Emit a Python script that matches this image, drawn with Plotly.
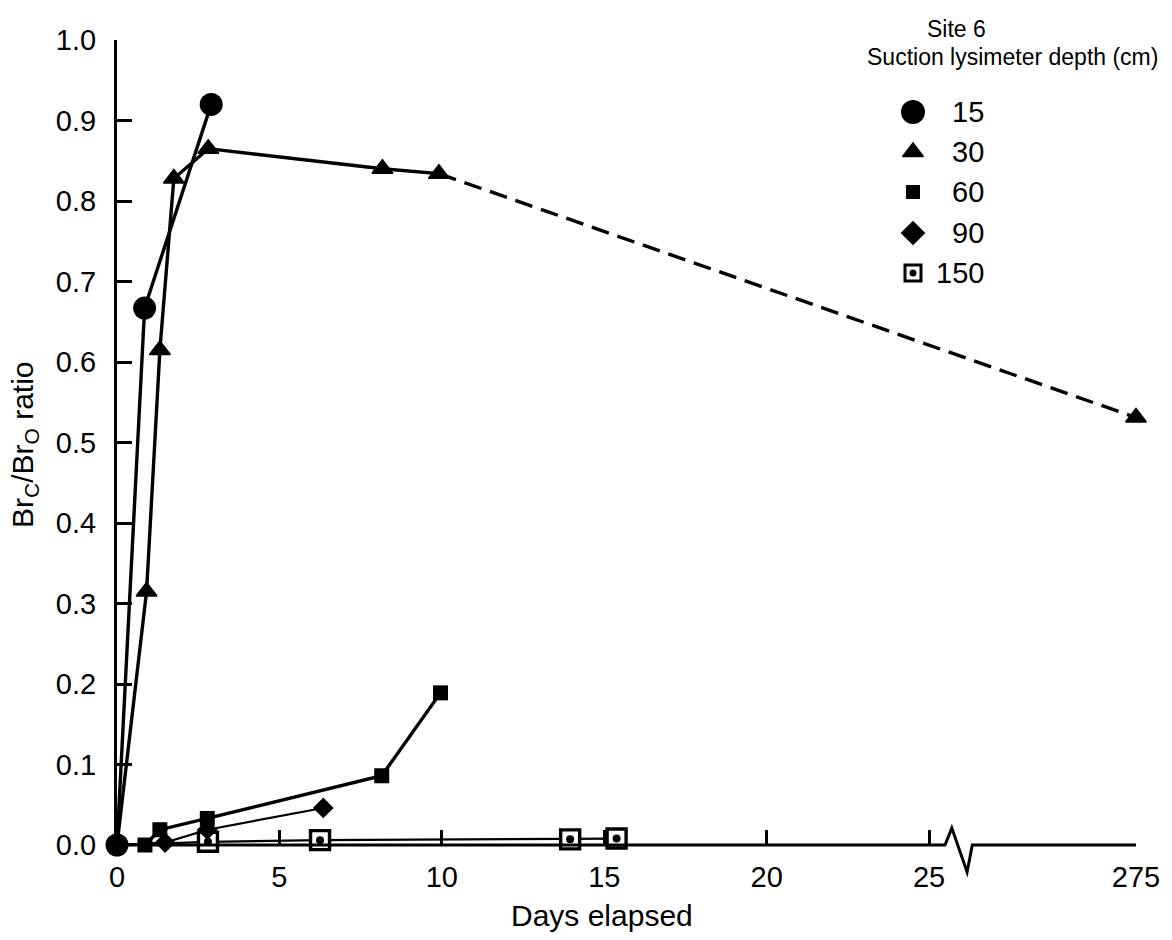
import plotly.graph_objects as go

# ---- Measured Br ratio (Br_C / Br_O) by suction lysimeter depth, Site 6 ----
days_15 = [0, 0.85, 2.9]
ratio_15 = [0, 0.667, 0.92]

days_30 = [0, 0.91, 1.32, 1.75, 2.81, 8.17, 9.91, 275]
ratio_30 = [0, 0.315, 0.615, 0.828, 0.865, 0.84, 0.834, 0.531]

days_60 = [0, 0.86, 1.32, 2.78, 8.15, 9.96]
ratio_60 = [0, 0.0, 0.019, 0.033, 0.086, 0.189]

days_90 = [0, 1.48, 2.78, 6.35]
ratio_90 = [0, 0.003, 0.019, 0.046]

days_150 = [0, 2.8, 6.25, 13.95, 15.38]
ratio_150 = [0, 0.004, 0.006, 0.007, 0.008]

depth_labels = ["15", "30", "60", "90", "150"]
x_tick_days = [0, 5, 10, 15, 20, 25, 275]
y_tick_vals = [i / 10 for i in range(11)]

# ---- broken x axis: days beyond the break are compressed ----
BREAK_DAY = 25.0
LAST_DAY = 275.0
AXIS_END = 31.37          # axis units where the last day is placed


def axis_pos(d):
    if d <= BREAK_DAY + 1:
        return d
    return BREAK_DAY + (d - BREAK_DAY) * (AXIS_END - BREAK_DAY) / (LAST_DAY - BREAK_DAY)


W, H = 1172, 940
ML, MR, MT, MB = 117, 36, 40, 95
PW, PH = W - ML - MR, H - MT - MB
FONT = "Liberation Sans, Arial, Helvetica, sans-serif"
BLACK = "#000000"


def px_to_paper(px, py):
    return (px - ML) / PW, (H - MB - py) / PH


def px_to_data(px, py):
    return (px - ML) / PW * AXIS_END, (H - MB - py) / PH


fig = go.Figure()


def add_series(days, ratio, symbol, size, lw, dash_last=False, origin_marker=False,
               fill=BLACK, mline=0, dot=None):
    xs = [axis_pos(d) for d in days]
    if dash_last:
        fig.add_trace(go.Scatter(x=xs[:-1], y=ratio[:-1], mode="lines",
                                 line=dict(color=BLACK, width=lw), hoverinfo="skip"))
        fig.add_trace(go.Scatter(x=xs[-2:], y=ratio[-2:], mode="lines",
                                 line=dict(color=BLACK, width=lw, dash="18px,9px"),
                                 hoverinfo="skip"))
    else:
        fig.add_trace(go.Scatter(x=xs, y=ratio, mode="lines",
                                 line=dict(color=BLACK, width=lw), hoverinfo="skip"))
    start = 0 if origin_marker else 1
    fig.add_trace(go.Scatter(
        x=xs[start:], y=ratio[start:], mode="markers", cliponaxis=False,
        marker=dict(symbol=symbol, size=size, color=fill,
                    line=dict(color=BLACK, width=mline)),
    ))
    if dot:
        fig.add_trace(go.Scatter(
            x=xs[start:], y=ratio[start:], mode="markers", cliponaxis=False,
            marker=dict(symbol="circle", size=dot, color=BLACK, line=dict(width=0)),
        ))


add_series(days_150, ratio_150, "square", 19, 2.2, fill="white", mline=3.4, dot=8)
add_series(days_90, ratio_90, "diamond", 16, 2.2)
add_series(days_60, ratio_60, "square", 15, 3.4)
add_series(days_30, ratio_30, "triangle-up", 18, 3.4, dash_last=True, mline=1.5)
add_series(days_15, ratio_15, "circle", 23, 3.4, origin_marker=True)

# ---- legend block ----
legend_rows_py = [112, 152, 192, 233, 273]
legend_symbols = [
    dict(symbol="circle", size=24, color=BLACK, line=dict(width=0)),
    dict(symbol="triangle-up", size=18, color=BLACK, line=dict(color=BLACK, width=1.5)),
    dict(symbol="square", size=14, color=BLACK, line=dict(width=0)),
    dict(symbol="diamond", size=19, color=BLACK, line=dict(width=0)),
    dict(symbol="square", size=16, color="white", line=dict(color=BLACK, width=3)),
]
for py, mk in zip(legend_rows_py, legend_symbols):
    lx, ly = px_to_data(913, py)
    fig.add_trace(go.Scatter(x=[lx], y=[ly], mode="markers", marker=mk,
                             cliponaxis=False, hoverinfo="skip"))
lx, ly = px_to_data(913, legend_rows_py[-1])
fig.add_trace(go.Scatter(x=[lx], y=[ly], mode="markers", cliponaxis=False,
                         marker=dict(symbol="circle", size=7, color=BLACK)))

annotations = []
for py, lab in zip(legend_rows_py, depth_labels):
    ax, ay = px_to_paper(986, py)
    annotations.append(dict(x=ax, y=ay, xref="paper", yref="paper", text=lab,
                            showarrow=False, xanchor="right", yanchor="middle",
                            font=dict(family=FONT, size=29, color=BLACK)))

tx, ty = px_to_paper(956, 29)
annotations.append(dict(x=tx, y=ty, xref="paper", yref="paper", text="Site 6",
                        showarrow=False, xanchor="center", yanchor="middle",
                        font=dict(family=FONT, size=23, color=BLACK)))
tx, ty = px_to_paper(1012, 57)
annotations.append(dict(x=tx, y=ty, xref="paper", yref="paper",
                        text="Suction lysimeter depth (cm)",
                        showarrow=False, xanchor="center", yanchor="middle",
                        font=dict(family=FONT, size=23, color=BLACK)))

# axis titles
tx, ty = px_to_paper(602, 915)
annotations.append(dict(x=tx, y=ty, xref="paper", yref="paper", text="Days elapsed",
                        showarrow=False, xanchor="center", yanchor="middle",
                        font=dict(family=FONT, size=30, color=BLACK)))
tx, ty = px_to_paper(25, 445)
annotations.append(dict(x=tx, y=ty, xref="paper", yref="paper",
                        text="Br<sub>C</sub>/Br<sub>O</sub> ratio", textangle=-90,
                        showarrow=False, xanchor="center", yanchor="middle",
                        font=dict(family=FONT, size=30, color=BLACK)))

# ---- x axis line with the zigzag break ----
zig_x = [25.49, 25.70, 26.17, 26.33]
zig_dy_px = [0, 17, -27, 0]
pts = [(0.0, 0.0)]
for zx, zdy in zip(zig_x, zig_dy_px):
    pts.append((zx / AXIS_END, zdy / PH))
pts.append((1.0, 0.0))
path = "M " + " L ".join(f"{x:.5f},{y:.5f}" for x, y in pts)
shapes = [dict(type="path", path=path, xref="paper", yref="paper",
               line=dict(color=BLACK, width=3), layer="above")]

fig.update_layout(
    width=W, height=H,
    margin=dict(l=ML, r=MR, t=MT, b=MB),
    paper_bgcolor="white", plot_bgcolor="white",
    showlegend=False,
    annotations=annotations,
    shapes=shapes,
    xaxis=dict(
        range=[0, AXIS_END], showgrid=False, zeroline=False, showline=False,
        tickmode="array", tickvals=[axis_pos(d) for d in x_tick_days],
        ticktext=[str(d) for d in x_tick_days],
        ticks="inside", ticklen=15, tickwidth=2.5, tickcolor=BLACK,
        ticklabelstandoff=12,
        tickfont=dict(family=FONT, size=29, color=BLACK),
    ),
    yaxis=dict(
        range=[0, 1.0], showgrid=False, zeroline=False,
        showline=True, linewidth=3, linecolor=BLACK,
        tickmode="array", tickvals=y_tick_vals,
        ticktext=[f"{v:.1f}" for v in y_tick_vals],
        ticks="inside", ticklen=15, tickwidth=2.5, tickcolor=BLACK,
        ticklabelstandoff=12,
        tickfont=dict(family=FONT, size=29, color=BLACK),
    ),
)

fig.write_html("out.html")
